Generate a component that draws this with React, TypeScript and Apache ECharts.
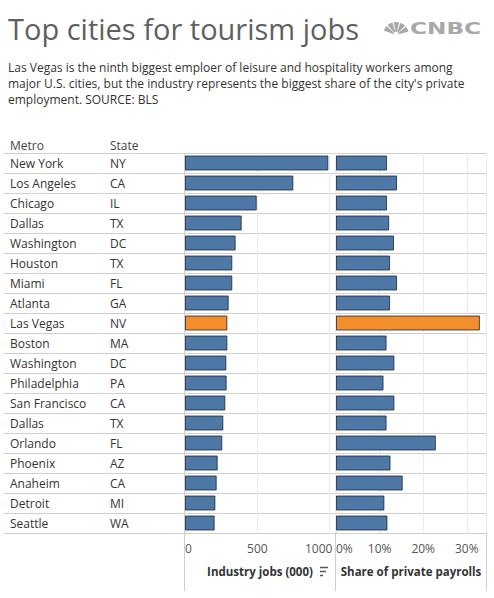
import React, { useEffect, useRef } from "react";
import * as echarts from "echarts";

const metros = ["New York", "Los Angeles", "Chicago", "Dallas", "Washington", "Houston", "Miami", "Atlanta", "Las Vegas", "Boston", "Washington", "Philadelphia", "San Francisco", "Dallas", "Orlando", "Phoenix", "Anaheim", "Detroit", "Seattle"];
const states = ["NY", "CA", "IL", "TX", "DC", "TX", "FL", "GA", "NV", "MA", "DC", "PA", "CA", "TX", "FL", "AZ", "CA", "MI", "WA"];
const jobs = [991, 749, 496, 392, 350, 327, 327, 302, 293, 293, 286, 288, 279, 265, 258, 226, 219, 210, 205];
const share = [11.7, 14.0, 11.7, 12.2, 13.3, 12.4, 14.0, 12.4, 33.0, 11.6, 13.4, 10.9, 13.4, 11.6, 22.9, 12.5, 15.3, 11.1, 11.8];
const highlight = "Las Vegas";
const jobTicks = [0, 500, 1000];
const shareTicks = [0, 10, 20, 30];

const FONT = "Open Sans";
const BLUE = "#4e79a7";
const ORANGE = "#f28e2b";

export default function App() {
  const ref = useRef<HTMLDivElement>(null);
  useEffect(() => {
    const chart = echarts.init(ref.current!, null, { renderer: "svg" });
    const idx = metros.map((_, i) => String(i));
    const color = (i: number) => (metros[i] === highlight ? ORANGE : BLUE);
    const gridTop = 153;
    const gridH = 380;

    const feathers: any[] = [];
    const fAngles = [200, 230, 260, 290, 320];
    fAngles.forEach((a) => {
      feathers.push({
        type: "sector",
        shape: { cx: 396, cy: 35, r: 13, r0: 3, startAngle: (a * Math.PI) / 180, endAngle: ((a + 24) * Math.PI) / 180 },
        style: { fill: "#a8a8a8" },
      });
    });

    const labelAxis = (fmt: (v: string) => string, margin: number) => ({
      gridIndex: 1,
      type: "category",
      position: "left",
      offset: 0,
      inverse: true,
      data: idx,
      axisLine: { show: false },
      axisTick: { show: false },
      axisLabel: { align: "left", margin, color: "#333", fontSize: 12, fontFamily: FONT, formatter: fmt },
    });

    const option: any = {
      animation: false,
      backgroundColor: "#fff",
      textStyle: { fontFamily: FONT },
      grid: [
        { left: 4, width: 482, top: gridTop, height: gridH },
        { left: 185, width: 150, top: gridTop, height: gridH },
        { left: 336, width: 150, top: gridTop, height: gridH },
      ],
      xAxis: [
        { gridIndex: 0, type: "value", show: false, min: 0, max: 1 },
        {
          gridIndex: 1,
          type: "value",
          min: 0,
          max: 1037,
          interval: 500,
          axisLine: { show: false },
          axisTick: { show: false },
          splitLine: { show: true, lineStyle: { color: "#ebebeb", width: 1 } },
          axisLabel: {
            color: "#555",
            fontSize: 12,
            fontFamily: FONT,
            margin: 9,
            alignMinLabel: "left",
            formatter: (v: number) => {
              if (!jobTicks.includes(v)) return "";
              if (v === jobTicks[jobTicks.length - 1]) return "{e|" + v + "}";
              return String(v);
            },
            rich: { e: { color: "#555", fontSize: 12, fontFamily: FONT, padding: [0, 22, 0, 0] } },
          },
          name: "Industry jobs (000)",
          nameLocation: "middle",
          nameGap: 32,
          nameTextStyle: { color: "#333", fontSize: 11.5, fontWeight: "bold", fontFamily: FONT, verticalAlign: "top" },
        },
        {
          gridIndex: 2,
          type: "value",
          min: 0,
          max: 34.4,
          interval: 10,
          axisLine: { show: false },
          axisTick: { show: false },
          splitLine: { show: true, lineStyle: { color: "#ebebeb", width: 1 } },
          axisLabel: {
            color: "#555",
            fontSize: 12,
            fontFamily: FONT,
            margin: 9,
            alignMinLabel: "left",
            formatter: (v: number) => (shareTicks.includes(v) ? v + "%" : ""),
          },
          name: "Share of private payrolls",
          nameLocation: "middle",
          nameGap: 32,
          nameTextStyle: { color: "#333", fontSize: 11.5, fontWeight: "bold", fontFamily: FONT, verticalAlign: "top" },
        },
      ],
      yAxis: [
        {
          gridIndex: 0,
          type: "category",
          inverse: true,
          data: idx,
          axisLine: { show: false },
          axisTick: { show: false },
          axisLabel: { show: false },
          splitLine: { show: true, lineStyle: { color: "#cfcfcf", width: 1 } },
        },
        labelAxis((v: string) => metros[Number(v)], 175),
        labelAxis((v: string) => states[Number(v)], 75),
        {
          gridIndex: 2,
          type: "category",
          inverse: true,
          data: idx,
          show: false,
        },
      ],
      series: [
        {
          type: "bar",
          xAxisIndex: 1,
          yAxisIndex: 1,
          barWidth: 15,
          data: jobs.map((v, i) => ({ value: v, itemStyle: { color: color(i) } })),
          itemStyle: { borderColor: "rgba(20,30,45,0.75)", borderWidth: 1 },
        },
        {
          type: "bar",
          xAxisIndex: 2,
          yAxisIndex: 3,
          barWidth: 15,
          data: share.map((v, i) => ({ value: v, itemStyle: { color: color(i) } })),
          itemStyle: { borderColor: "rgba(20,30,45,0.75)", borderWidth: 1 },
        },
      ],
      graphic: [
        {
          type: "text",
          left: 8,
          top: 14,
          style: { text: "Top cities for tourism jobs", fill: "#5f5f5f", fontSize: 29, fontFamily: FONT },
        },
        ...feathers,
        {
          type: "text",
          x: 410,
          y: 29,
          scaleX: 1.45,
          style: { text: "CNBC", fill: "#a8a8a8", fontSize: 16, fontWeight: 900, fontFamily: "DejaVu Sans", verticalAlign: "middle" },
        },
        {
          type: "text",
          left: 8,
          top: 59,
          style: {
            text:
              "Las Vegas is the ninth biggest emploer of leisure and hospitality workers among\nmajor U.S. cities, but the industry represents the biggest share of the city's private\nemployment. SOURCE: BLS",
            fill: "#333",
            fontSize: 12,
            lineHeight: 16,
            fontFamily: FONT,
          },
        },
        { type: "text", x: 10, y: 145, style: { text: "Metro", fill: "#444", fontSize: 12, fontFamily: FONT, verticalAlign: "middle" } },
        { type: "text", x: 110, y: 145, style: { text: "State", fill: "#444", fontSize: 12, fontFamily: FONT, verticalAlign: "middle" } },
        { type: "line", shape: { x1: 184.5, y1: 153, x2: 184.5, y2: 591 }, style: { stroke: "#cfcfcf", lineWidth: 1 } },
        { type: "line", shape: { x1: 335.5, y1: 153, x2: 335.5, y2: 591 }, style: { stroke: "#cfcfcf", lineWidth: 1 } },
        { type: "line", shape: { x1: 486.5, y1: 153, x2: 486.5, y2: 591 }, style: { stroke: "#cfcfcf", lineWidth: 1 } },
        { type: "line", shape: { x1: 320, y1: 567.5, x2: 328, y2: 567.5 }, style: { stroke: "#555", lineWidth: 1.5 } },
        { type: "line", shape: { x1: 320, y1: 571.5, x2: 326, y2: 571.5 }, style: { stroke: "#555", lineWidth: 1.5 } },
        { type: "line", shape: { x1: 320, y1: 575.5, x2: 323, y2: 575.5 }, style: { stroke: "#555", lineWidth: 1.5 } },
      ],
    };
    chart.setOption(option);
    return () => chart.dispose();
  }, []);
  return <div ref={ref} style={{ position: "fixed", left: 0, top: 0, width: 494, height: 598 }} />;
}
